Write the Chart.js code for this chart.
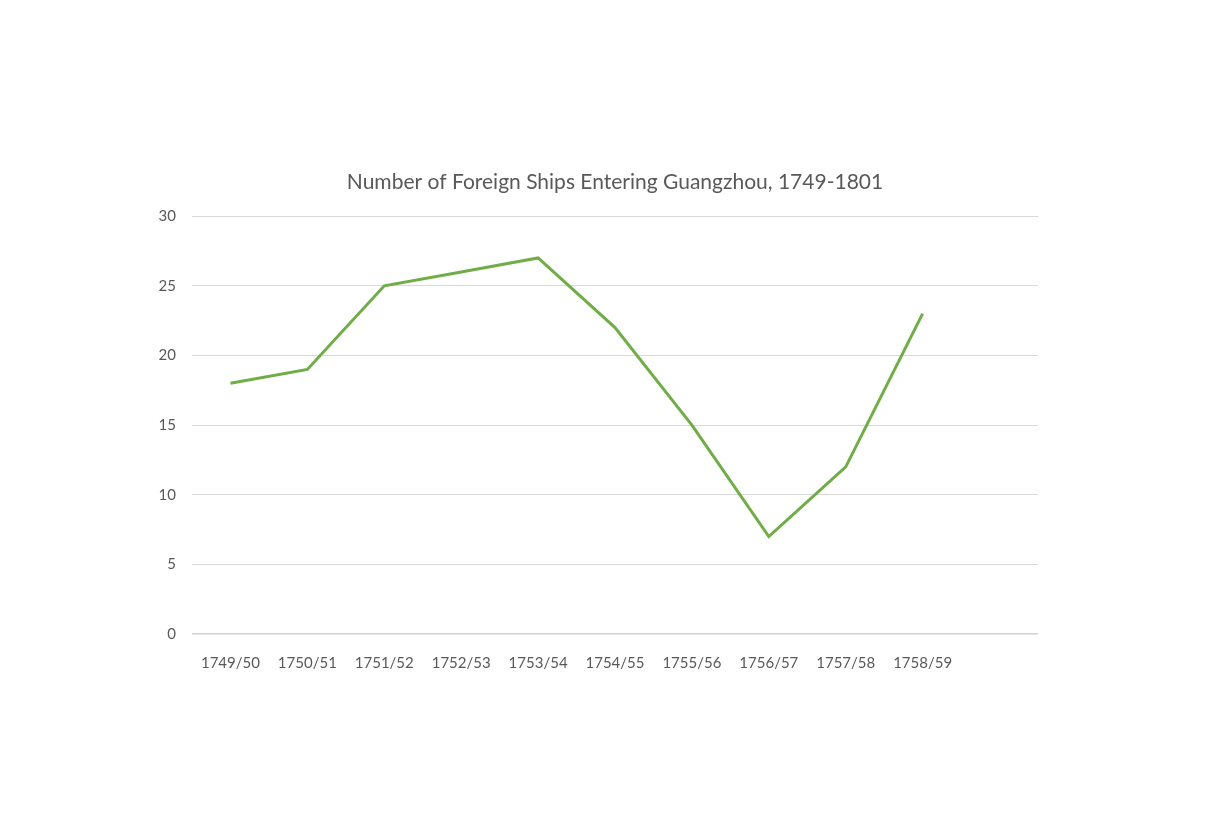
<!DOCTYPE html>
<html>
<head>
<meta charset="utf-8">
<script src="https://cdn.jsdelivr.net/npm/chart.js@4"></script>
<style>
  html, body { margin: 0; padding: 0; background: #fff; }
  #wrap { position: relative; width: 1226px; height: 825px; }
</style>
</head>
<body>
<div id="wrap"><canvas id="shipsChart"></canvas></div>
<script>
// Data
const seasons = ['1749/50', '1750/51', '1751/52', '1752/53', '1753/54', '1754/55', '1755/56', '1756/57', '1757/58', '1758/59', ''];
const ships = [18, 19, 25, 26, 27, 22, 15, 7, 12, 23, null];
const yTicks = [0, 5, 10, 15, 20, 25, 30];

const textColor = '#595959';
const gridColor = '#d9d9d9';
const fontFamily = 'Lato, "Open Sans", sans-serif';

const ctx = document.getElementById('shipsChart').getContext('2d');
new Chart(ctx, {
    type: 'line',
    data: {
        labels: seasons,
        datasets: [{
            label: 'Ships',
            data: ships,
            borderColor: '#70ad47',
            borderWidth: 3,
            pointRadius: 0,
            tension: 0,
            fill: false
        }]
    },
    options: {
        responsive: true,
        maintainAspectRatio: false,
        animation: false,
        layout: { padding: { left: 152, right: 188, top: 170, bottom: 151 } },
        scales: {
            x: {
                offset: true,
                grid: { display: false },
                border: { display: false },
                ticks: {
                    color: textColor,
                    font: { family: fontFamily, size: 15 },
                    maxRotation: 0,
                    autoSkip: false,
                    padding: 12
                },
                afterFit: (axis) => { axis.height = 40; }
            },
            y: {
                min: 0,
                max: 30,
                afterBuildTicks: (axis) => { axis.ticks = yTicks.map(v => ({ value: v })); },
                grid: {
                    color: (c) => c.tick && c.tick.value === 0 ? '#d0d0d0' : gridColor,
                    lineWidth: (c) => c.tick && c.tick.value === 0 ? 1.5 : 1,
                    drawTicks: false
                },
                border: { display: false },
                ticks: {
                    color: textColor,
                    font: { family: fontFamily, size: 15 },
                    padding: 16
                },
                afterFit: (axis) => { axis.width = 40; }
            }
        },
        plugins: {
            legend: { display: false },
            tooltip: { enabled: false },
            title: {
                display: true,
                fullSize: false, // centre over the plot area, like the reference
                text: 'Number of Foreign Ships Entering Guangzhou, 1749-1801',
                color: textColor,
                font: { family: fontFamily, size: 21, weight: 'normal' },
                padding: { top: 0, bottom: 21 }
            }
        }
    }
});
</script>
</body>
</html>
